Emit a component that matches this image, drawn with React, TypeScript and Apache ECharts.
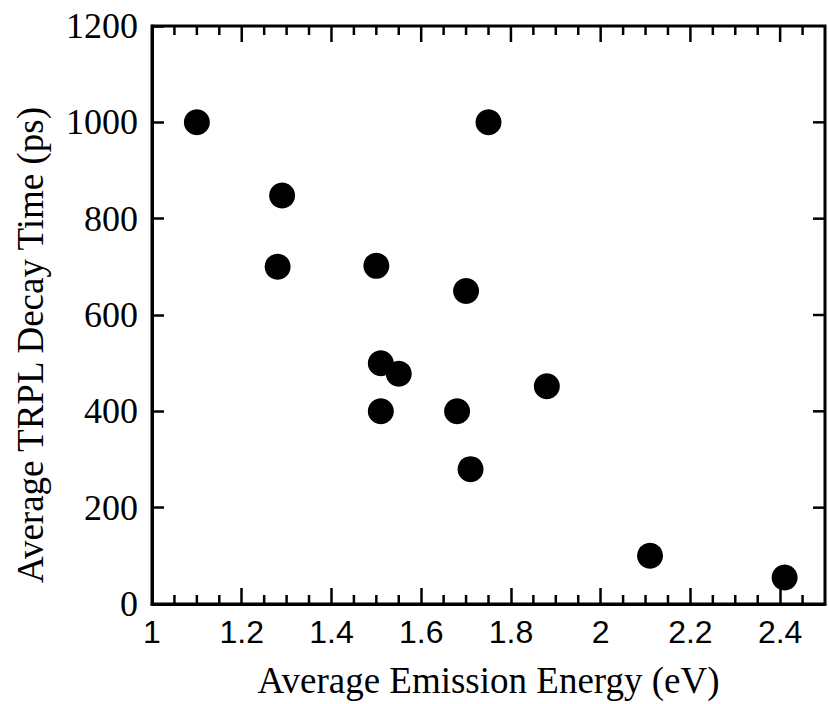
import React, { useEffect, useRef } from "react";
import * as echarts from "echarts";

// Average emission energy (eV) and average TRPL decay time (ps) per sample
const emissionEnergy = [1.1, 1.29, 1.28, 1.5, 1.75, 1.7, 1.51, 1.55, 1.51, 1.68, 1.88, 1.71, 2.11, 2.41];
const decayTime = [1000, 848, 700, 702, 1000, 650, 500, 478, 400, 400, 452, 280, 100, 55];

const xTitle = "Average Emission Energy (eV)";
const yTitle = "Average TRPL Decay Time (ps)";

const X_MIN = 1;
const X_MAX = 2.5;
const X_MAJOR = 0.2;
const Y_MIN = 0;
const Y_MAX = 1200;
const Y_MAJOR = 200;

// Tick positions on the frame
const xMajorTicks = [1.2, 1.4, 1.6, 1.8, 2, 2.2, 2.4];
const xMinorTicks = [
  1.05, 1.1, 1.15, 1.25, 1.3, 1.35, 1.45, 1.5, 1.55, 1.65, 1.7, 1.75,
  1.85, 1.9, 1.95, 2.05, 2.1, 2.15, 2.25, 2.3, 2.35, 2.45,
];
const yMajorTicks = [200, 400, 600, 800, 1000];

const serif = "'Liberation Serif', 'Times New Roman', serif";
const sans = "'Liberation Sans', Arial, sans-serif";

// Short inward tick drawn from a point on the frame
const tickSeries = (
  data: number[][],
  edge: (api: any) => number[],
  dx: number,
  dy: number
) => ({
  type: "custom" as const,
  data,
  renderItem: (_p: any, api: any) => {
    const p = edge(api);
    return {
      type: "line",
      shape: { x1: p[0], y1: p[1], x2: p[0] + dx, y2: p[1] + dy },
      style: { stroke: "#000", lineWidth: 2.5 },
    };
  },
});

export default function App() {
  const ref = useRef<HTMLDivElement>(null);

  useEffect(() => {
    if (!ref.current) return;
    const chart = echarts.init(ref.current, undefined, { renderer: "svg" });

    chart.setOption({
      animation: false,
      backgroundColor: "#fff",
      grid: {
        left: 152,
        top: 26,
        width: 673,
        height: 581,
        show: true,
        borderColor: "#000",
        borderWidth: 3,
        backgroundColor: "transparent",
      },
      xAxis: [
        {
          type: "value",
          position: "bottom",
          min: X_MIN,
          max: X_MAX,
          interval: X_MAJOR,
          axisLine: { show: true, onZero: false, lineStyle: { color: "#000", width: 3 } },
          axisTick: { show: true, inside: true, length: 16, lineStyle: { color: "#000", width: 2.5 } },
          axisLabel: {
            show: true,
            showMaxLabel: false,
            margin: 12,
            color: "#000",
            fontFamily: sans,
            fontSize: 32,
            formatter: (v: number) => String(Math.round(v * 10) / 10),
          },
          splitLine: { show: false },
          name: xTitle,
          nameLocation: "middle",
          nameGap: 58,
          nameTextStyle: { color: "#000", fontFamily: serif, fontSize: 37 },
        },
      ],
      yAxis: [
        {
          type: "value",
          position: "left",
          min: Y_MIN,
          max: Y_MAX,
          interval: Y_MAJOR,
          axisLine: { show: true, onZero: false, lineStyle: { color: "#000", width: 3 } },
          axisTick: { show: true, inside: true, length: 12, lineStyle: { color: "#000", width: 2.5 } },
          axisLabel: {
            show: true,
            margin: 14,
            color: "#000",
            fontFamily: serif,
            fontSize: 36,
            formatter: (v: number) => String(v),
          },
          splitLine: { show: false },
        },
      ],
      graphic: [
        {
          type: "text",
          x: 30,
          y: 345,
          rotation: Math.PI / 2,
          style: {
            text: yTitle,
            fill: "#000",
            font: `37px ${serif}`,
            align: "center",
            verticalAlign: "middle",
          },
        },
      ],
      series: [
        // minor ticks rising from the bottom edge
        tickSeries(xMinorTicks.map((v) => [v, Y_MIN]), (api) => api.coord([api.value(0), Y_MIN]), 0, -9),
        // minor and major ticks hanging from the top edge
        tickSeries(xMinorTicks.map((v) => [v, Y_MAX]), (api) => api.coord([api.value(0), Y_MAX]), 0, 9),
        tickSeries(xMajorTicks.map((v) => [v, Y_MAX]), (api) => api.coord([api.value(0), Y_MAX]), 0, 16),
        // ticks pointing left from the right edge
        tickSeries(yMajorTicks.map((v) => [X_MAX, v]), (api) => api.coord([X_MAX, api.value(1)]), -12, 0),
        {
          type: "scatter",
          symbol: "circle",
          symbolSize: 26,
          itemStyle: { color: "#000", opacity: 1 },
          data: emissionEnergy.map((e, i) => [e, decayTime[i]]),
        },
      ],
    });

    return () => chart.dispose();
  }, []);

  return <div ref={ref} style={{ width: 829, height: 704, position: "absolute", left: 0, top: 0 }} />;
}
